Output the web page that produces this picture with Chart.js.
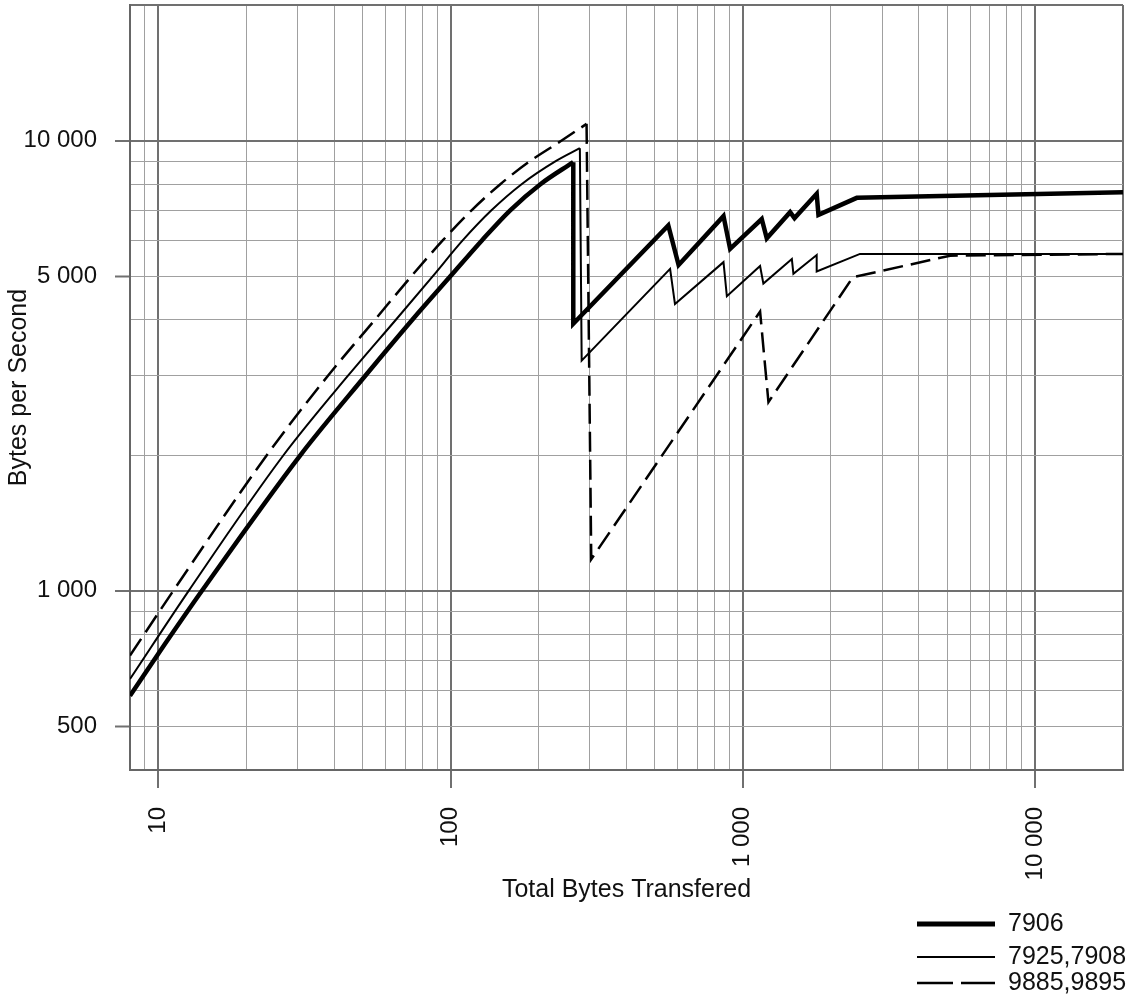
<!DOCTYPE html>
<html>
<head>
<meta charset="utf-8">
<title>Bytes per Second</title>
<script src="https://cdn.jsdelivr.net/npm/chart.js@4.4.0/dist/chart.umd.min.js"></script>
<style>
  body { margin: 0; background: #fff; }
  #chart { display: block; }
</style>
</head>
<body>
<canvas id="chart" width="1131" height="1001"></canvas>
<script>
// values (bytes transfered -> bytes per second)
// each run is split in its smooth rising part and the sawtooth/flat rest
var seriesNames = ['7906', '7925,7908', '9885,9895'];

var x7906Rise = [8, 10, 14.1, 30.6, 51, 74, 100, 128, 160, 203, 263];
var y7906Rise = [585, 725, 1000, 2000, 3000, 4000, 5000, 6000, 7000, 8000, 8955];
var x7906Rest = [263, 263, 556, 603, 859, 905, 1161, 1208, 1452, 1503, 1790, 1815, 2455, 20000];
var y7906Rest = [8955, 3918, 6475, 5293, 6795, 5745, 6695, 6067, 6933, 6725, 7618, 6837, 7460, 7680];

var x7925Rise = [8, 12.7, 26.8, 44.5, 65, 87, 110, 138, 175, 229, 277];
var y7925Rise = [637, 1000, 2000, 3000, 4000, 5000, 6000, 7000, 8000, 9000, 9618];
var x7925Rest = [277, 281, 564, 586, 859, 882, 1146, 1176, 1472, 1490, 1790, 1790, 2518, 20000];
var y7925Rest = [9618, 3245, 5188, 4334, 5370, 4510, 5263, 4811, 5455, 5060, 5570, 5120, 5600, 5600];

var x9885Rise = [8, 11.25, 23.5, 38, 55.1, 73.5, 94, 118, 148, 187, 240, 292];
var y9885Rise = [718, 1000, 2000, 3000, 4000, 5000, 6000, 7000, 8000, 9000, 10000, 10890];
var x9885Rest = [292, 303, 1146, 1224, 2380, 5120, 20000];
var y9885Rest = [10890, 1175, 4169, 2625, 4970, 5550, 5600];

// grid lines and labelled ticks
var xGrid = [8, 9, 10, 20, 30, 40, 50, 60, 70, 80, 90, 100, 200, 300, 400, 500, 600, 700, 800, 900,
             1000, 2000, 3000, 4000, 5000, 6000, 7000, 8000, 9000, 10000, 20000];
var yGrid = [400, 500, 600, 700, 800, 900, 1000, 2000, 3000, 4000, 5000, 6000, 7000, 8000, 9000, 10000, 20000];
var xTickValues = [10, 100, 1000, 10000];
var xTickText = ['10', '100', '1 000', '10 000'];
var yTickValues = [500, 1000, 5000, 10000];
var yTickText = ['500', '1 000', '5 000', '10 000'];

var FONT = '"Liberation Sans", Arial, Helvetica, sans-serif';

function points(xs, ys) {
    return xs.map(function (x, i) { return { x: x, y: ys[i] }; });
}

function labelFor(values, texts, v) {
    var i = values.indexOf(v);
    return i < 0 ? '' : texts[i];
}

function isMajor(v, lo, hi) {
    var l = Math.log10(v);
    return v === lo || v === hi || Math.abs(l - Math.round(l)) < 1e-9;
}

function noPadding(scale) {
    scale.paddingLeft = 0;
    scale.paddingRight = 0;
    scale.paddingTop = 0;
    scale.paddingBottom = 0;
}

var styles = [
    { borderWidth: 4.5, legendWidth: 5 },
    { borderWidth: 2 },
    { borderWidth: 2.5, borderDash: [20, 8], legendDash: [36, 8] }
];

function run(i, xs, ys, smooth, inLegend) {
    var s = styles[i];
    return {
        label: seriesNames[i],
        data: points(xs, ys),
        borderColor: '#000',
        borderWidth: s.borderWidth,
        borderDash: s.borderDash || [],
        legendDash: s.legendDash,
        legendWidth: s.legendWidth,
        inLegend: inLegend,
        borderJoinStyle: 'miter',
        cubicInterpolationMode: smooth ? 'monotone' : 'default',
        tension: 0
    };
}

var legendPlugin = {
    id: 'cornerLegend',
    afterDraw: function (chart) {
        var ctx = chart.ctx;
        var rows = [924, 957, 983];
        var row = 0;
        chart.data.datasets.forEach(function (ds) {
            if (!ds.inLegend) return;
            var y = rows[row++];
            ctx.save();
            ctx.strokeStyle = ds.borderColor;
            ctx.lineWidth = ds.legendWidth || ds.borderWidth;
            ctx.setLineDash(ds.legendDash || []);
            ctx.beginPath();
            ctx.moveTo(917, y);
            ctx.lineTo(995, y);
            ctx.stroke();
            ctx.setLineDash([]);
            ctx.fillStyle = '#111';
            ctx.font = '25px ' + FONT;
            ctx.textBaseline = 'middle';
            ctx.textAlign = 'left';
            ctx.fillText(ds.label, 1008, y);
            ctx.restore();
        });
    }
};

var ctx = document.getElementById('chart').getContext('2d');
var chart = new Chart(ctx, {
    type: 'line',
    data: {
        datasets: [
            run(0, x7906Rise, y7906Rise, true, true),
            run(0, x7906Rest, y7906Rest, false, false),
            run(1, x7925Rise, y7925Rise, true, true),
            run(1, x7925Rest, y7925Rest, false, false),
            run(2, x9885Rise, y9885Rise, true, true),
            run(2, x9885Rest, y9885Rest, false, false)
        ]
    },
    options: {
        responsive: false,
        animation: false,
        events: [],
        elements: {
            point: { radius: 0 },
            line: { fill: false }
        },
        layout: { padding: { left: 0, top: 5, right: 8, bottom: 96 } },
        plugins: {
            legend: { display: false },
            tooltip: { enabled: false }
        },
        scales: {
            x: {
                type: 'logarithmic',
                min: 8,
                max: 20000,
                afterBuildTicks: function (scale) {
                    scale.ticks = xGrid.map(function (v) { return { value: v }; });
                },
                afterFit: function (scale) { scale.height = 135; noPadding(scale); },
                ticks: {
                    autoSkip: false,
                    minRotation: 90,
                    maxRotation: 90,
                    padding: 19,
                    color: '#111',
                    font: { family: FONT, size: 24 },
                    callback: function (v) { return labelFor(xTickValues, xTickText, v); }
                },
                grid: {
                    drawTicks: true,
                    tickLength: 18,
                    color: function (c) { return isMajor(c.tick.value, 8, 20000) ? '#707070' : '#a0a0a0'; },
                    lineWidth: function (c) { return isMajor(c.tick.value, 8, 20000) ? 2 : 1; },
                    tickColor: function (c) { return labelFor(xTickValues, xTickText, c.tick.value) ? '#707070' : 'rgba(0,0,0,0)'; },
                    tickWidth: 2
                },
                border: { display: true, color: '#666', width: 2 },
                title: {
                    display: true,
                    text: 'Total Bytes Transfered',
                    color: '#111',
                    font: { family: FONT, size: 25 },
                    padding: { top: 0, bottom: 0 }
                }
            },
            y: {
                type: 'logarithmic',
                min: 400,
                max: 20000,
                afterBuildTicks: function (scale) {
                    scale.ticks = yGrid.map(function (v) { return { value: v }; });
                },
                afterFit: function (scale) { scale.width = 130; noPadding(scale); },
                ticks: {
                    autoSkip: false,
                    padding: 18,
                    color: '#111',
                    font: { family: FONT, size: 24 },
                    callback: function (v) { return labelFor(yTickValues, yTickText, v); }
                },
                grid: {
                    drawTicks: true,
                    tickLength: 15,
                    color: function (c) { return isMajor(c.tick.value, 400, 20000) ? '#707070' : '#a0a0a0'; },
                    lineWidth: function (c) { return isMajor(c.tick.value, 400, 20000) ? 2 : 1; },
                    tickColor: function (c) { return labelFor(yTickValues, yTickText, c.tick.value) ? '#707070' : 'rgba(0,0,0,0)'; },
                    tickWidth: 2
                },
                border: { display: true, color: '#666', width: 2 },
                title: {
                    display: true,
                    text: 'Bytes per Second',
                    color: '#111',
                    font: { family: FONT, size: 25 },
                    padding: { top: 4, bottom: 0 }
                }
            }
        }
    },
    plugins: [legendPlugin]
});
</script>
</body>
</html>
